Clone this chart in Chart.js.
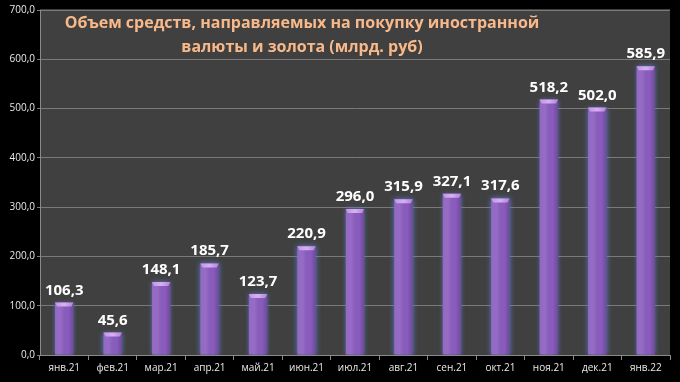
<!DOCTYPE html>
<html><head><meta charset="utf-8">
<script src="https://cdn.jsdelivr.net/npm/chart.js@4"></script>
<style>html,body{margin:0;padding:0;background:#000;}#wrap{width:680px;height:382px;}</style>
</head><body><div id="wrap"><canvas id="c" width="680" height="382"></canvas></div>
<script>
const categories = ['янв.21','фев.21','мар.21','апр.21','май.21','июн.21','июл.21','авг.21','сен.21','окт.21','ноя.21','дек.21','янв.22'];
const values = [106.3, 45.6, 148.1, 185.7, 123.7, 220.9, 296.0, 315.9, 327.1, 317.6, 518.2, 502.0, 585.9];
const titleLines = ['Объем средств, направляемых на покупку иностранной', 'валюты и золота (млрд. руб)'];
const fmt = v => v.toFixed(1).replace('.', ',');

const deco = {
  id: 'deco',
  beforeDraw(chart) {
    const {ctx, chartArea: a} = chart;
    ctx.save();
    ctx.fillStyle = '#000';
    ctx.fillRect(0, 0, chart.width, chart.height);
    ctx.fillStyle = '#404040';
    ctx.fillRect(a.left, a.top - 1, a.right - a.left, a.bottom - a.top + 1);
    ctx.restore();
  },
  beforeDatasetDraw(chart) {
    const ctx = chart.ctx;
    ctx.save();
    ctx.shadowColor = 'rgba(90,130,210,0.9)';
    ctx.shadowBlur = 5;
  },
  afterDatasetDraw(chart) {
    const ctx = chart.ctx;
    ctx.restore();
    const meta = chart.getDatasetMeta(0);
    ctx.save();
    meta.data.forEach((bar, i) => {
      const w = bar.width, l = bar.x - w / 2, top = bar.y, bot = bar.base;
      const g = ctx.createLinearGradient(l, 0, l + w, 0);
      g.addColorStop(0, 'rgba(255,255,255,0.08)');
      g.addColorStop(0.3, 'rgba(255,255,255,0.10)');
      g.addColorStop(0.7, 'rgba(0,0,0,0.0)');
      g.addColorStop(1, 'rgba(0,0,0,0.2)');
      ctx.fillStyle = g;
      ctx.fillRect(l, top, w, bot - top);
      // top cap
      const cg = ctx.createLinearGradient(l, 0, l + w, 0);
      cg.addColorStop(0, '#c294e4');
      cg.addColorStop(0.5, '#d8b0f2');
      cg.addColorStop(1, '#b084d4');
      ctx.fillStyle = cg;
      ctx.beginPath();
      ctx.moveTo(l, top);
      ctx.lineTo(l + w, top);
      ctx.lineTo(l + w - 2, top + 4);
      ctx.lineTo(l + 2, top + 4);
      ctx.closePath();
      ctx.fill();
    });
    ctx.restore();
  },
  afterDraw(chart) {
    const ctx = chart.ctx;
    const meta = chart.getDatasetMeta(0);
    ctx.save();
    ctx.fillStyle = '#ffffff';
    ctx.font = 'bold 15px "Open Sans", "Liberation Sans", sans-serif';
    ctx.textAlign = 'center';
    ctx.textBaseline = 'alphabetic';
    meta.data.forEach((bar, i) => {
      ctx.fillText(fmt(values[i]), bar.x, bar.y - 8);
    });
    ctx.fillStyle = '#f8b98a';
    ctx.font = 'bold 16px "Open Sans", "Liberation Sans", sans-serif';
    ctx.textBaseline = 'middle';
    ctx.fillText(titleLines[0], 302, 23);
    ctx.fillText(titleLines[1], 302, 47);
    ctx.restore();
  }
};

new Chart(document.getElementById('c'), {
  type: 'bar',
  data: {
    labels: categories,
    datasets: [{
      data: values,
      backgroundColor: '#8a5cbf',
      borderWidth: 0,
      categoryPercentage: 1.0,
      barPercentage: 0.38
    }]
  },
  options: {
    responsive: false,
    animation: false,
    events: [],
    layout: {padding: {top: 10, right: 10, left: 0, bottom: 0}},
    plugins: {legend: {display: false}, tooltip: {enabled: false}, title: {display: false}},
    scales: {
      x: {
        afterFit(s) { s.height = 27; },
        grid: {display: true, drawOnChartArea: false, drawTicks: true, offset: true, tickLength: 5, color: '#8a8a8a'},
        border: {display: true, color: '#8a8a8a'},
        ticks: {color: '#e8e8e8', font: {size: 10, family: '"Open Sans", "Liberation Sans", sans-serif'}, padding: 2}
      },
      y: {
        min: 0, max: 700,
        afterFit(s) { s.width = 40; },
        ticks: {stepSize: 100, color: '#e8e8e8', font: {size: 10, family: '"Open Sans", "Liberation Sans", sans-serif'}, padding: 2, callback: v => fmt(v)},
        grid: {color: '#7a7a7a', tickLength: 3, drawTicks: true},
        border: {display: true, color: '#8a8a8a'}
      }
    }
  },
  plugins: [deco]
});
</script></body></html>
